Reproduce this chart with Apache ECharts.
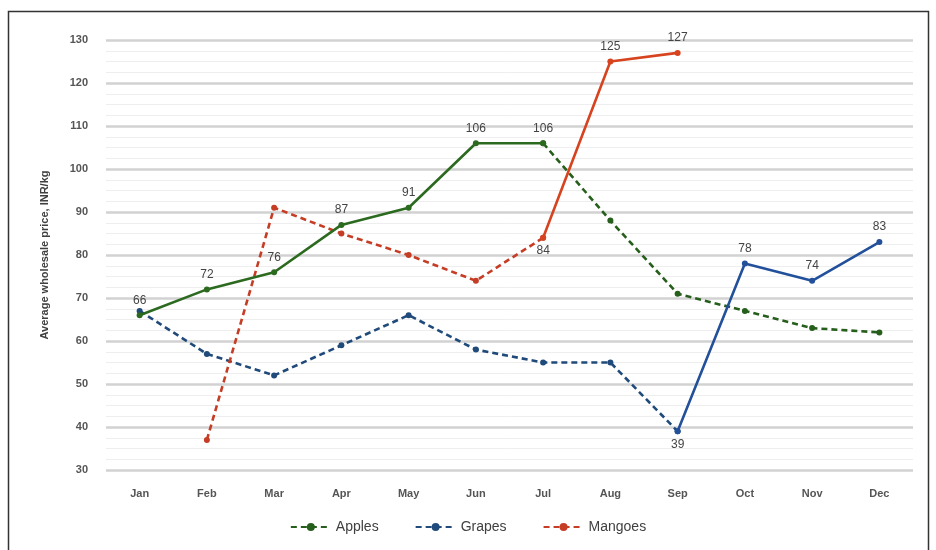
<!DOCTYPE html>
<html>
<head>
<meta charset="utf-8">
<script src="https://cdn.jsdelivr.net/npm/echarts@6/dist/echarts.min.js"></script>
<style>
  html, body { margin: 0; padding: 0; background: #fff; }
  #chart { width: 936px; height: 550px; }
</style>
</head>
<body>
<div id="chart"></div>
<script>
var months = ['Jan', 'Feb', 'Mar', 'Apr', 'May', 'Jun', 'Jul', 'Aug', 'Sep', 'Oct', 'Nov', 'Dec']

// solid parts carry the labels, dashed parts don't
var applesSolid = [66, 72, 76, 87, 91, 106, 106, null, null, null, null, null]
var applesDashed = [null, null, null, null, null, null, 106, 88, 71, 67, 63, 62]
var grapesDashed = [67, 57, 52, 59, 66, 58, 55, 55, 39, null, null, null]
var grapesSolid = [null, null, null, null, null, null, null, null, 39, 78, 74, 83]
var mangoesDashed = [null, 37, 91, 85, 80, 74, 84, null, null, null, null, null]
var mangoesSolid = [null, null, null, null, null, null, 84, 125, 127, null, null, null]

var yTicks = [30, 130, 10]

function withLabels(arr, below) {
  return arr.map(function(v, i) {
    if (v === null) return null
    if (below && below.indexOf(i) > -1) {
      return { value: v, label: { position: 'bottom', distance: 4 } }
    }
    return v
  })
}

function line(name, data, color, dashed, labels) {
  return {
    name: name,
    type: 'line',
    data: data,
    symbol: 'circle',
    symbolSize: 6,
    connectNulls: false,
    z: dashed ? 2 : 3,
    lineStyle: { color: color, width: 2.6, type: dashed ? [6, 4] : 'solid' },
    itemStyle: { color: color },
    emphasis: { disabled: true },
    label: {
      show: labels,
      position: 'top',
      distance: 6,
      color: '#444',
      fontSize: 12,
      fontFamily: 'Liberation Sans'
    }
  }
}

var chart = echarts.init(document.getElementById('chart'))
chart.setOption({
  animation: false,
  backgroundColor: '#fff',
  graphic: [{
    type: 'rect',
    shape: { x: 8.5, y: 11.5, width: 920, height: 560 },
    style: { fill: 'none', stroke: '#333', lineWidth: 1.5 },
    silent: true
  }],
  grid: { left: 106, right: 23, top: 40, bottom: 80 },
  legend: {
    data: ['Apples', 'Grapes', 'Mangoes'],
    bottom: 11,
    left: 'center',
    itemWidth: 40,
    itemHeight: 10,
    itemGap: 36,
    textStyle: { color: '#404040', fontSize: 14, fontFamily: 'Liberation Sans' }
  },
  xAxis: {
    type: 'category',
    data: months,
    boundaryGap: true,
    axisLine: { show: false },
    axisTick: { show: false },
    axisLabel: { color: '#555', fontSize: 11, fontWeight: 'bold', margin: 18, fontFamily: 'Liberation Sans' }
  },
  yAxis: {
    type: 'value',
    min: yTicks[0],
    max: yTicks[1],
    interval: yTicks[2],
    name: 'Average wholesale price, INR/kg',
    nameLocation: 'middle',
    nameGap: 56,
    nameTextStyle: { color: '#404040', fontSize: 11, fontWeight: 'bold', fontFamily: 'Liberation Sans' },
    axisLine: { show: false },
    axisTick: { show: false },
    axisLabel: { color: '#555', fontSize: 11, fontWeight: 'bold', margin: 18, fontFamily: 'Liberation Sans' },
    splitLine: { lineStyle: { color: '#d2d2d2', width: 2.5 } },
    minorTick: { show: false, splitNumber: 4 },
    minorSplitLine: { show: true, lineStyle: { color: '#eeeeee', width: 1 } }
  },
  series: [
    line('Apples', applesDashed, '#265e1c', true, false),
    line('Apples', applesSolid, '#2b6a1f', false, true),
    line('Grapes', grapesDashed, '#1f4a7a', true, false),
    line('Grapes', withLabels(grapesSolid, [8]), '#23509a', false, true),
    line('Mangoes', mangoesDashed, '#c53d25', true, false),
    line('Mangoes', withLabels(mangoesSolid, [6]), '#d8431f', false, true)
  ]
})
</script>
</body>
</html>
